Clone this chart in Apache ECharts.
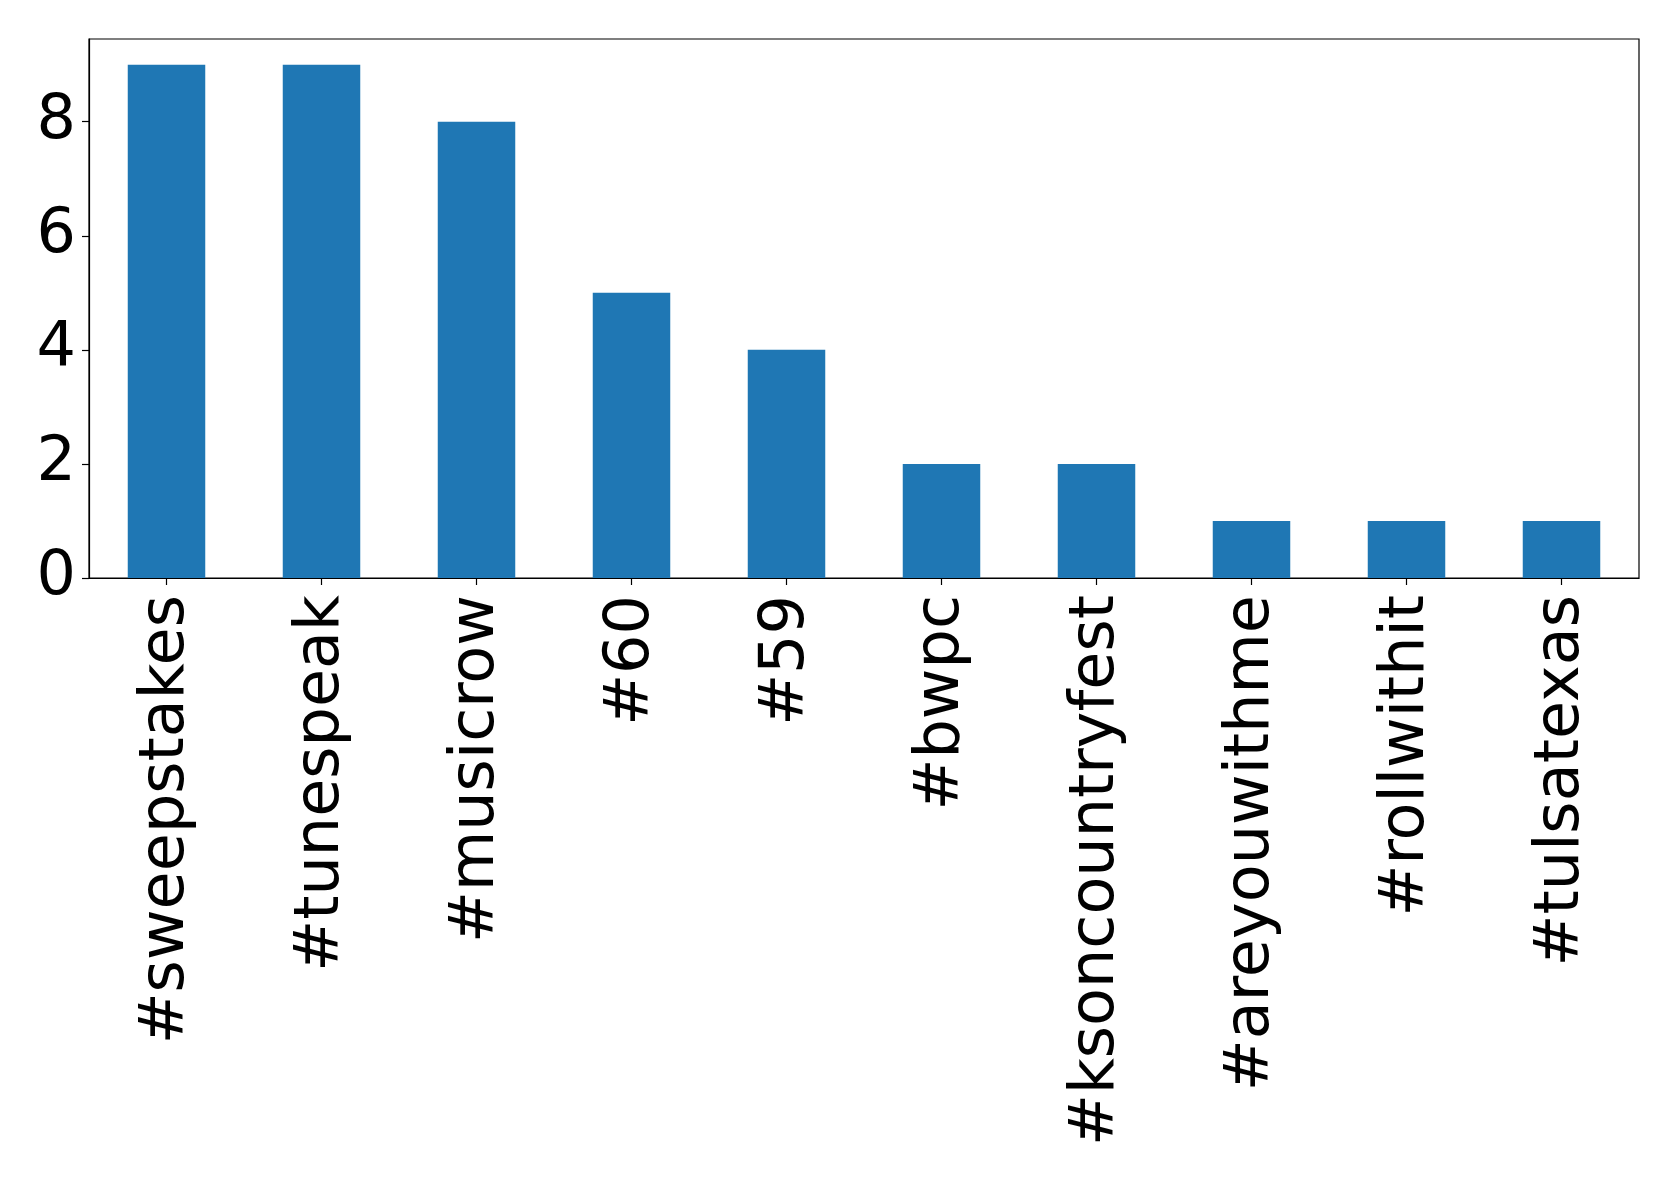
<!DOCTYPE html>
<html>
<head>
<meta charset="utf-8">
<script src="https://cdn.jsdelivr.net/npm/echarts@6/dist/echarts.min.js"></script>
<style>
html,body{margin:0;padding:0;background:#fff;}
#chart{width:1679px;height:1183px;}
</style>
</head>
<body>
<div id="chart"></div>
<script>
const categories = ['#sweepstakes','#tunespeak','#musicrow','#60','#59','#bwpc','#ksoncountryfest','#areyouwithme','#rollwithit','#tulsatexas'];
const counts = [9, 9, 8, 5, 4, 2, 2, 1, 1, 1];
const yTicks = [0, 2, 4, 6, 8];

const chart = echarts.init(document.getElementById('chart'), null, {renderer:'canvas'});
const font = 'DejaVu Sans';
chart.setOption({
  animation: false,
  backgroundColor: '#ffffff',
  grid: {left: 89, top: 39, width: 1550, height: 539, show: true, borderColor: '#000', borderWidth: 1.2, backgroundColor: 'transparent'},
  xAxis: {
    type: 'category',
    data: categories,
    boundaryGap: true,
    axisLine: {show: true, lineStyle: {color: '#000', width: 1.2}},
    axisTick: {show: true, alignWithLabel: true, length: 7, lineStyle: {color: '#000', width: 1.2}},
    axisLabel: {rotate: 90, margin: 17, fontFamily: font, fontSize: 62, color: '#000', interval: 0},
    splitLine: {show: false}
  },
  yAxis: {
    type: 'value',
    min: 0, max: 9.45,
    axisLine: {show: true, lineStyle: {color: '#000', width: 1.2}},
    axisTick: {show: true, length: 7, lineStyle: {color: '#000', width: 1.2}, customValues: yTicks},
    axisLabel: {margin: 13, fontFamily: font, fontSize: 62, color: '#000', customValues: yTicks},
    splitLine: {show: false}
  },
  series: [{
    type: 'bar',
    data: counts,
    barWidth: '50%',
    itemStyle: {color: '#1f77b4'}
  }]
});
</script>
</body>
</html>
